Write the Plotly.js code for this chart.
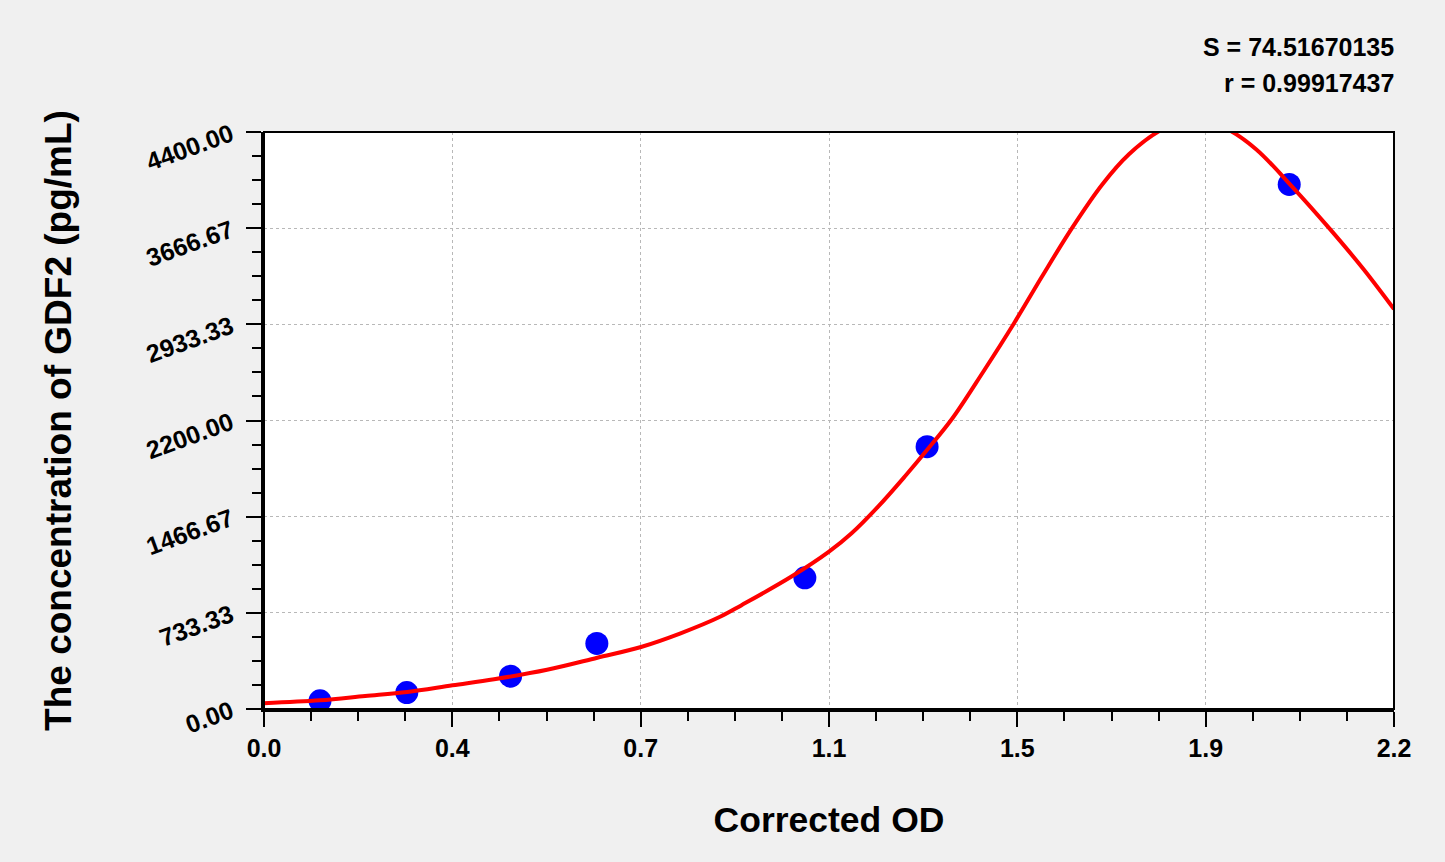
<!DOCTYPE html>
<html>
<head>
<meta charset="utf-8">
<script src="https://cdn.plot.ly/plotly-3.0.1.min.js"></script>
<style>
  html, body { margin: 0; padding: 0; background: #f0f0f0; }
  #chart { width: 1445px; height: 862px; }
</style>
</head>
<body>
<div id="chart"></div>
<script>
// standards (corrected OD vs concentration)
var stdOD = [0.109, 0.278, 0.480, 0.648, 1.053, 1.291, 1.996];
var stdConc = [62.5, 125, 250, 500, 1000, 2000, 4000];

// fitted curve
var fitOD = [0, 0.109, 0.197, 0.279, 0.367, 0.448, 0.551, 0.649, 0.734, 0.811, 0.889, 0.929, 1.027, 1.100, 1.144, 1.196, 1.248, 1.294, 1.340, 1.400, 1.460, 1.515, 1.573, 1.632, 1.684, 1.743, 1.780, 1.813, 1.845, 1.877, 1.932, 2.002, 2.075, 2.140, 2.200];
var fitConc = [44, 66, 99, 130, 181, 227, 299, 391, 473, 577, 705, 790, 1010, 1200, 1340, 1545, 1775, 1990, 2215, 2570, 2940, 3300, 3667, 4000, 4230, 4407, 4465, 4480, 4466, 4419, 4267, 3982, 3661, 3357, 3049];

var xTickVals = [0, 0.36667, 0.73333, 1.1, 1.46667, 1.83333, 2.2];
var xTickText = ['0.0', '0.4', '0.7', '1.1', '1.5', '1.9', '2.2'];
var yTickVals = [0, 733.33, 1466.67, 2200, 2933.33, 3666.67, 4400];
var yTickText = ['0.00', '733.33', '1466.67', '2200.00', '2933.33', '3666.67', '4400.00'];

var fnt = 'Liberation Sans, Arial, sans-serif';

var data = [{
  x: stdOD,
  y: stdConc,
  mode: 'markers',
  type: 'scatter',
  marker: {color: '#0000ff', size: 23},
  hoverinfo: 'x+y'
}, {
  x: fitOD,
  y: fitConc,
  mode: 'lines',
  type: 'scatter',
  line: {color: '#ff0000', width: 4, shape: 'spline'},
  hoverinfo: 'none'
}];

var layout = {
  width: 1445,
  height: 862,
  paper_bgcolor: '#f0f0f0',
  plot_bgcolor: '#ffffff',
  showlegend: false,
  margin: {l: 264, r: 51, t: 132, b: 153},
  font: {family: fnt, color: '#000', weight: 'bold'},
  xaxis: {
    range: [0, 2.2],
    tickmode: 'array',
    tickvals: xTickVals,
    ticktext: xTickText,
    tickfont: {size: 25, family: fnt, weight: 'bold'},
    ticks: 'outside', ticklen: 15, tickwidth: 2, tickcolor: '#000',
    minor: {tickmode: 'linear', tick0: 0, dtick: 2.2 / 24, ticks: 'outside', ticklen: 9, tickwidth: 2, tickcolor: '#000', showgrid: false},
    showline: true, linecolor: '#000', linewidth: 3,
    showgrid: true, gridcolor: '#b8b8b8', griddash: 'dot', gridwidth: 1,
    zeroline: false,
    title: {text: 'Corrected OD', font: {size: 35.5, family: fnt, weight: 'bold'}, standoff: 47},
    automargin: false
  },
  yaxis: {
    range: [0, 4400],
    tickmode: 'array',
    tickvals: yTickVals,
    ticktext: yTickText,
    tickangle: -20,
    ticklabelstandoff: 10,
    tickfont: {size: 25, family: fnt, weight: 'bold'},
    ticks: 'outside', ticklen: 15, tickwidth: 2, tickcolor: '#000',
    minor: {tickmode: 'linear', tick0: 0, dtick: 4400 / 24, ticks: 'outside', ticklen: 9, tickwidth: 2, tickcolor: '#000', showgrid: false},
    showline: true, linecolor: '#000', linewidth: 3,
    showgrid: true, gridcolor: '#b8b8b8', griddash: 'dot', gridwidth: 1,
    zeroline: false,
    title: {text: 'The concentration of GDF2 (pg/mL)', font: {size: 37, family: fnt, weight: 'bold'}, standoff: 60},
    automargin: false
  },
  shapes: [{
    type: 'rect', xref: 'paper', yref: 'paper', x0: 0, x1: 1, y0: 0, y1: 1,
    line: {color: '#000', width: 2}
  }],
  annotations: [{
    text: 'S = 74.51670135', xref: 'paper', yref: 'paper', x: 1.002, y: 1.1476,
    xanchor: 'right', yanchor: 'middle', showarrow: false,
    font: {size: 25, family: fnt, weight: 'bold', color: '#000'}
  }, {
    text: 'r = 0.99917437', xref: 'paper', yref: 'paper', x: 1.002, y: 1.085,
    xanchor: 'right', yanchor: 'middle', showarrow: false,
    font: {size: 25, family: fnt, weight: 'bold', color: '#000'}
  }]
};

Plotly.newPlot('chart', data, layout, {displayModeBar: false, staticPlot: true});
</script>
</body>
</html>
